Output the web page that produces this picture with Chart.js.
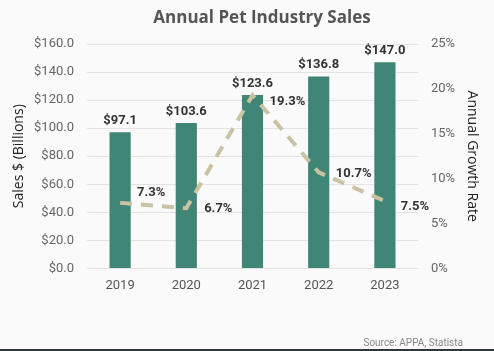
<!DOCTYPE html>
<html lang="en">
<head>
<meta charset="UTF-8">
<title>Annual Pet Industry Sales</title>
<script src="https://cdn.jsdelivr.net/npm/chart.js"></script>
<style>
    html, body { margin: 0; padding: 0; background: #fafafa; }
    .wrap { position: relative; width: 494px; height: 351px; box-sizing: border-box; border-bottom: 2px solid #2b3a38; }
    #salesChart { position: absolute; left: 0; top: 0; }
    h1 { position: absolute; left: 0; width: 524px; top: 5px; margin: 0; text-align: center;
         font: bold 17px 'Open Sans', sans-serif; color: #555; }
    .source { position: absolute; right: 31px; bottom: 1px; font: 10px Roboto, sans-serif; color: #888; }
</style>
</head>
<body>
<div class="wrap">
    <canvas id="salesChart" width="494" height="349"></canvas>
    <h1>Annual Pet Industry Sales</h1>
    <div class="source">Source: APPA, Statista</div>
</div>

<script>
const years = ["2019", "2020", "2021", "2022", "2023"];
const sales = [97.1, 103.6, 123.6, 136.8, 147.0];
const growth = [7.3, 6.7, 19.3, 10.7, 7.5];

// where the growth labels sit relative to their point
const growthLabelOffsets = [[31, -10], [32, 0], [35, 7], [35, 1], [30, 6]];

const valueLabels = {
    id: 'valueLabels',
    afterDatasetsDraw(chart) {
        const ctx = chart.ctx;
        ctx.save();
        ctx.font = 'bold 13px Roboto, sans-serif';
        ctx.fillStyle = '#333';
        ctx.textAlign = 'center';

        ctx.textBaseline = 'bottom';
        chart.getDatasetMeta(1).data.forEach((bar, i) => {
            ctx.fillText('$' + sales[i].toFixed(1), bar.x, bar.y - 5);
        });

        ctx.textBaseline = 'middle';
        chart.getDatasetMeta(0).data.forEach((pt, i) => {
            const off = growthLabelOffsets[i];
            ctx.fillText(growth[i].toFixed(1) + '%', pt.x + off[0], pt.y + off[1]);
        });
        ctx.restore();
    }
};

new Chart(document.getElementById('salesChart'), {
    data: {
        labels: years,
        datasets: [{
            type: 'line',
            label: 'Growth',
            data: growth,
            yAxisID: 'y1',
            borderColor: '#c9c3a3',
            borderWidth: 4,
            borderDash: [12, 9],
            pointRadius: 0,
            tension: 0,
            order: 0
        }, {
            type: 'bar',
            label: 'Sales',
            data: sales,
            yAxisID: 'y',
            backgroundColor: '#3f8677',
            barPercentage: 0.32,
            categoryPercentage: 1,
            order: 1
        }]
    },
    options: {
        responsive: false,
        animation: false,
        layout: { padding: { left: 7, right: 6, top: 44, bottom: 45 } },
        plugins: {
            legend: { display: false },
            tooltip: { enabled: false },
            title: { display: false }
        },
        scales: {
            x: {
                grid: { display: false, drawTicks: false },
                border: { display: false },
                ticks: { color: '#555', font: { family: 'Roboto', size: 13 }, padding: 10 }
            },
            y: {
                position: 'left',
                min: 0,
                max: 160,
                afterFit: s => { s.width = 80; },
                grid: { color: '#e3e3e3', drawTicks: false },
                border: { display: false },
                ticks: {
                    stepSize: 20,
                    color: '#666',
                    font: { family: 'Roboto', size: 13 },
                    padding: 13,
                    callback: v => '$' + v.toFixed(1)
                },
                title: { display: true, text: 'Sales $ (Billions)', color: '#222', font: { family: 'Open Sans', size: 14 }, padding: 4 }
            },
            y1: {
                position: 'right',
                min: 0,
                max: 25,
                afterFit: s => { s.width = 70; },
                grid: { display: false, drawTicks: false },
                border: { display: false },
                ticks: {
                    stepSize: 5,
                    color: '#666',
                    font: { family: 'Roboto', size: 13 },
                    padding: 13,
                    callback: v => v + '%'
                },
                title: { display: true, text: 'Annual Growth Rate', color: '#222', font: { family: 'Open Sans', size: 14 }, padding: 8 }
            }
        }
    },
    plugins: [valueLabels]
});
</script>
</body>
</html>
